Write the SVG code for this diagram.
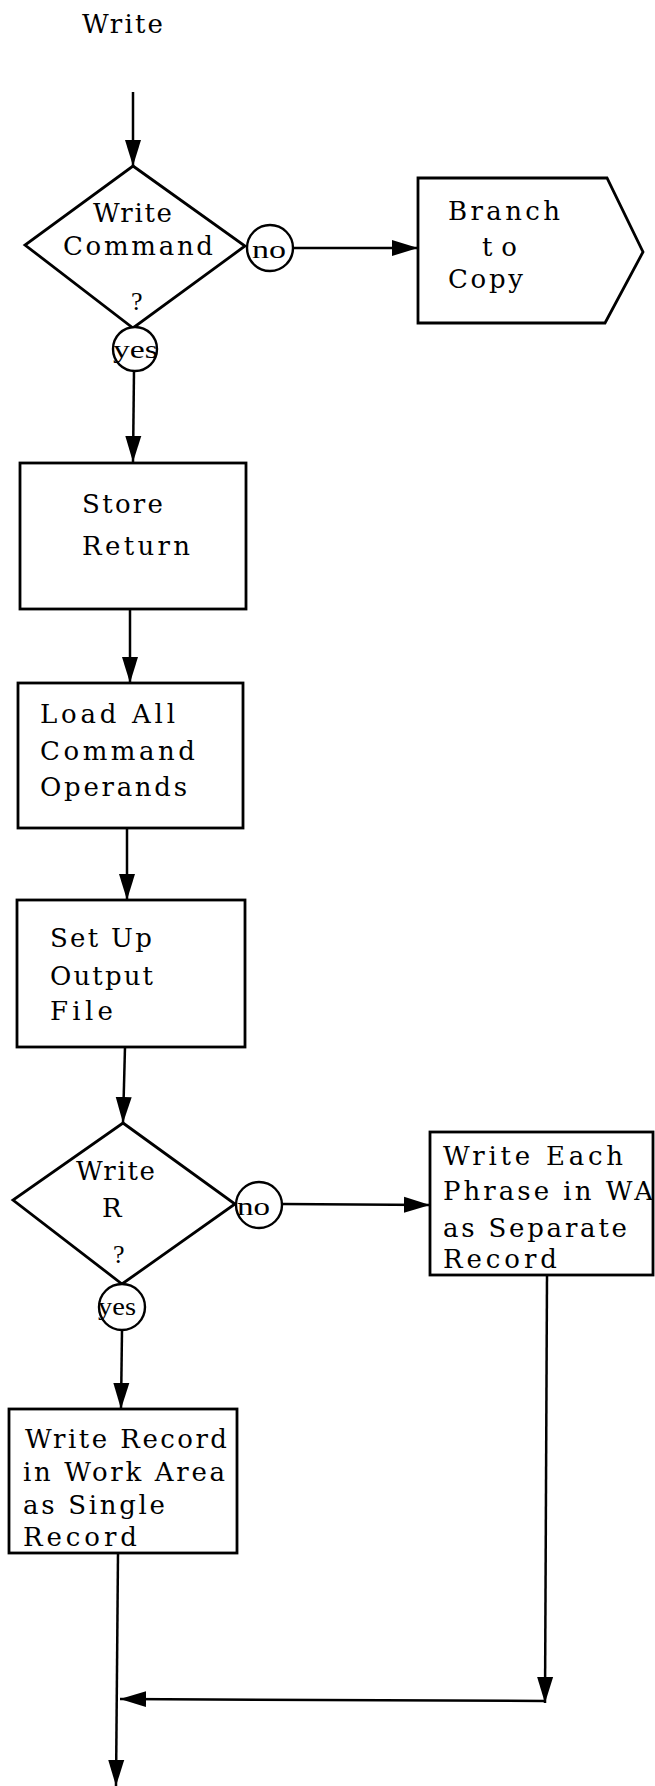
<svg xmlns="http://www.w3.org/2000/svg" width="655" height="1786" viewBox="0 0 655 1786">
<style>
.bg{fill:#ffffff}
.shape{fill:#ffffff;stroke:#000;stroke-width:2.8;stroke-linejoin:miter}
.circ{fill:#ffffff;stroke:#000;stroke-width:2.4}
.line{fill:none;stroke:#000;stroke-width:2.5}
.t{font-family:"DejaVu Serif","Liberation Serif",serif;font-size:26px;fill:#000}
.s{font-family:"Liberation Serif","Times New Roman",serif;font-size:26px;fill:#000}
</style>
<defs>
<marker id="ah" markerUnits="userSpaceOnUse" markerWidth="28" markerHeight="18" refX="26" refY="9" orient="auto">
<path d="M0,1 L26,9 L0,17 Z" fill="#000"/>
</marker>
</defs>
<rect class="bg" x="0" y="0" width="655" height="1786"/>

<g id="title">
<text class="t" x="82" y="33" textLength="81" lengthAdjust="spacing">Write</text>
</g>

<g id="connectors">
<line class="line" x1="133" y1="92" x2="133" y2="166" marker-end="url(#ah)"/>
<line class="line" x1="293" y1="248" x2="418" y2="248" marker-end="url(#ah)"/>
<line class="line" x1="134" y1="370" x2="133" y2="462" marker-end="url(#ah)"/>
<line class="line" x1="130" y1="609" x2="130" y2="683" marker-end="url(#ah)"/>
<line class="line" x1="127" y1="828" x2="127" y2="900" marker-end="url(#ah)"/>
<line class="line" x1="125" y1="1047" x2="123" y2="1123" marker-end="url(#ah)"/>
<line class="line" x1="282" y1="1204" x2="430" y2="1205" marker-end="url(#ah)"/>
<line class="line" x1="122" y1="1330" x2="121" y2="1409" marker-end="url(#ah)"/>
<line class="line" x1="118" y1="1553" x2="116" y2="1786" marker-end="url(#ah)"/>
<line class="line" x1="547" y1="1275" x2="545" y2="1703" marker-end="url(#ah)"/>
<line class="line" x1="545" y1="1701" x2="120" y2="1699" marker-end="url(#ah)"/>
</g>

<g id="d1">
<polygon class="shape" points="133,166 245,246 133,328 25,245"/>
<text class="t" x="93" y="222" textLength="79" lengthAdjust="spacing">Write</text>
<text class="t" x="63" y="255" textLength="150" lengthAdjust="spacing">Command</text>
<text class="s" x="131" y="310">?</text>
</g>
<g id="no1">
<circle class="circ" cx="270" cy="248" r="23"/>
<text class="s" x="252" y="258" textLength="34" lengthAdjust="spacingAndGlyphs">no</text>
</g>
<g id="yes1">
<circle class="circ" cx="135" cy="349" r="22"/>
<text class="s" x="113" y="358" textLength="45" lengthAdjust="spacingAndGlyphs">yes</text>
</g>

<g id="branch">
<polygon class="shape" points="418,178 607,178 643,252 605,323 418,323"/>
<text class="t" x="448" y="220" textLength="112" lengthAdjust="spacing">Branch</text>
<text class="t" x="482" y="256" textLength="35" lengthAdjust="spacing">to</text>
<text class="t" x="448" y="288" textLength="75" lengthAdjust="spacing">Copy</text>
</g>

<g id="store">
<rect class="shape" x="20" y="463" width="226" height="146"/>
<text class="t" x="82" y="513" textLength="81" lengthAdjust="spacing">Store</text>
<text class="t" x="82" y="555" textLength="108" lengthAdjust="spacing">Return</text>
</g>

<g id="load">
<rect class="shape" x="18" y="683" width="225" height="145"/>
<text class="t" x="40" y="723" textLength="135" lengthAdjust="spacing">Load All</text>
<text class="t" x="40" y="760" textLength="155" lengthAdjust="spacing">Command</text>
<text class="t" x="40" y="796" textLength="147" lengthAdjust="spacing">Operands</text>
</g>

<g id="setup">
<rect class="shape" x="17" y="900" width="228" height="147"/>
<text class="t" x="50" y="947" textLength="102" lengthAdjust="spacing">Set Up</text>
<text class="t" x="50" y="985" textLength="103" lengthAdjust="spacing">Output</text>
<text class="t" x="50" y="1020" textLength="63" lengthAdjust="spacing">File</text>
</g>

<g id="d2">
<polygon class="shape" points="123,1123 235,1204 122,1284 13,1200"/>
<text class="t" x="76" y="1180" textLength="79" lengthAdjust="spacing">Write</text>
<text class="t" x="102" y="1217">R</text>
<text class="s" x="113" y="1263">?</text>
</g>
<g id="no2">
<circle class="circ" cx="259" cy="1205" r="23"/>
<text class="s" x="237" y="1215" textLength="33" lengthAdjust="spacingAndGlyphs">no</text>
</g>
<g id="yes2">
<circle class="circ" cx="122" cy="1307" r="23"/>
<text class="s" x="98" y="1315" textLength="38" lengthAdjust="spacingAndGlyphs">yes</text>
</g>

<g id="eachphrase">
<rect class="shape" x="430" y="1132" width="223" height="143"/>
<text class="t" x="443" y="1165" textLength="180" lengthAdjust="spacing">Write Each</text>
<text class="t" x="443" y="1200" textLength="210" lengthAdjust="spacing">Phrase in WA</text>
<text class="t" x="443" y="1237" textLength="184" lengthAdjust="spacing">as Separate</text>
<text class="t" x="443" y="1268" textLength="114" lengthAdjust="spacing">Record</text>
</g>

<g id="singlerecord">
<rect class="shape" x="9" y="1409" width="228" height="144"/>
<text class="t" x="25" y="1448" textLength="202" lengthAdjust="spacing">Write Record</text>
<text class="t" x="23" y="1481" textLength="202" lengthAdjust="spacing">in Work Area</text>
<text class="t" x="23" y="1514" textLength="142" lengthAdjust="spacing">as Single</text>
<text class="t" x="23" y="1546" textLength="114" lengthAdjust="spacing">Record</text>
</g>
</svg>
